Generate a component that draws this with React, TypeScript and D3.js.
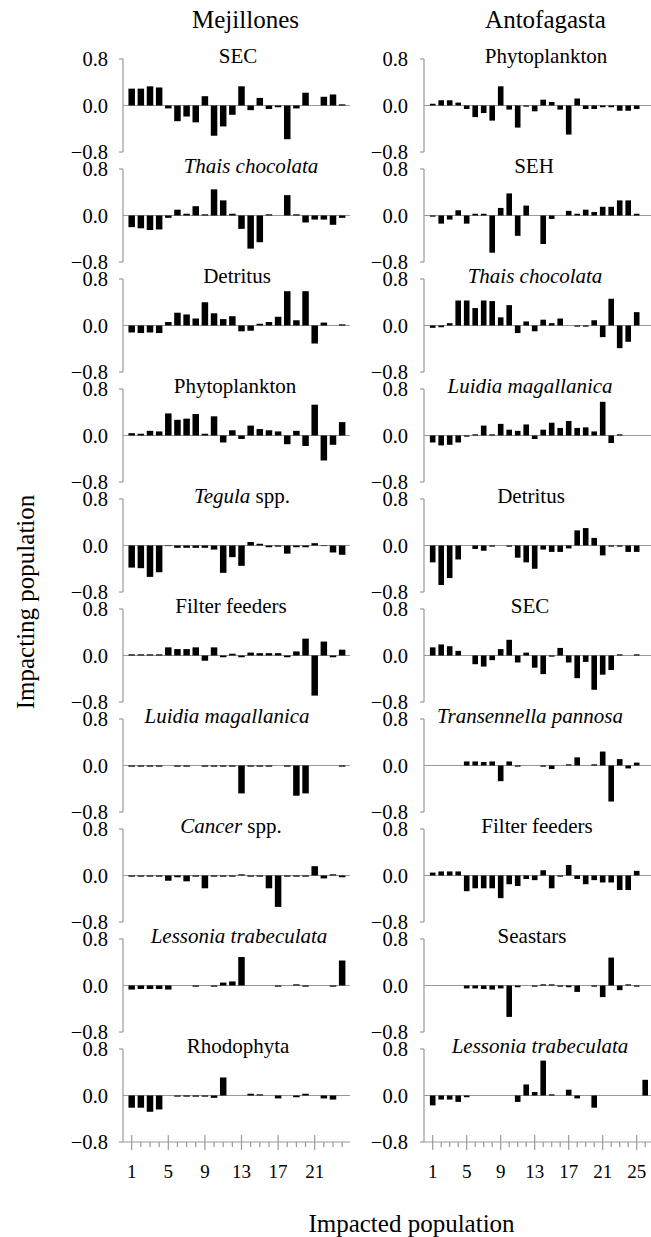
import React from "react";
import * as d3 from "d3";

// Mejillones: impacted populations 1-24, one array per impacting population
const mejSEC = [0.29, 0.29, 0.33, 0.31, -0.05, -0.27, -0.19, -0.29, 0.16, -0.52, -0.36, -0.16, 0.33, -0.08, 0.13, -0.06, -0.03, -0.58, -0.05, 0.22, 0, 0.15, 0.19, 0.02];
const mejThais = [-0.2, -0.22, -0.25, -0.24, -0.04, 0.1, 0.03, 0.16, 0.02, 0.45, 0.26, 0.03, -0.23, -0.57, -0.46, 0.02, 0, 0.35, 0.02, -0.12, -0.07, -0.07, -0.16, -0.04];
const mejDetritus = [-0.12, -0.13, -0.12, -0.13, 0.06, 0.22, 0.19, 0.12, 0.4, 0.21, 0.11, 0.16, -0.1, -0.09, 0.03, 0.06, 0.15, 0.59, 0.09, 0.59, -0.31, 0.05, 0, 0.02];
const mejPhyto = [0.04, 0.03, 0.08, 0.07, 0.38, 0.27, 0.29, 0.37, 0.03, 0.33, -0.12, 0.09, -0.06, 0.17, 0.11, 0.09, 0.07, -0.15, 0.08, -0.18, 0.53, -0.43, -0.16, 0.23];
const mejTegula = [-0.38, -0.39, -0.54, -0.46, -0.01, -0.04, -0.04, -0.04, -0.04, -0.07, -0.47, -0.2, -0.35, 0.06, 0.03, -0.03, -0.02, -0.14, -0.03, -0.03, 0.04, -0.01, -0.12, -0.16];
const mejFilter = [0.02, 0.02, 0.02, 0.02, 0.14, 0.11, 0.11, 0.14, -0.09, 0.14, -0.03, 0.03, -0.03, 0.05, 0.04, 0.04, 0.04, -0.03, 0.07, 0.29, -0.69, 0.24, -0.03, 0.1];
const mejLuidia = [-0.02, -0.02, -0.02, -0.02, 0, -0.02, -0.02, 0, -0.02, -0.02, -0.02, -0.02, -0.48, -0.02, -0.02, -0.02, 0, -0.02, -0.52, -0.48, 0, 0, 0, -0.02];
const mejCancer = [-0.02, -0.02, -0.02, -0.02, -0.09, -0.03, -0.1, -0.02, -0.22, -0.02, -0.02, -0.02, 0.02, -0.02, -0.02, -0.22, -0.54, -0.02, -0.02, -0.02, 0.16, -0.05, 0.02, -0.03];
const mejLessonia = [-0.07, -0.06, -0.06, -0.06, -0.07, 0, 0, -0.02, 0, -0.02, 0.05, 0.07, 0.49, 0, 0, 0, -0.02, 0, 0.02, -0.02, 0, 0, -0.02, 0.43];
const mejRhodo = [-0.21, -0.21, -0.28, -0.24, 0, -0.02, -0.02, -0.02, -0.02, -0.04, 0.31, 0, 0, 0.03, 0.02, 0, -0.05, 0, -0.03, 0.03, 0, -0.05, -0.07, 0];

// Antofagasta: impacted populations 1-26
const antPhyto = [0.03, 0.09, 0.09, 0.05, -0.06, -0.2, -0.13, -0.26, 0.33, -0.07, -0.38, -0.02, -0.1, 0.1, 0.06, -0.07, -0.5, 0.12, -0.06, -0.06, -0.03, -0.03, -0.09, -0.09, -0.06, 0];
const antSEH = [-0.02, -0.14, -0.07, 0.09, -0.14, 0.03, 0.03, -0.64, 0.13, 0.38, -0.35, 0.17, 0, -0.49, -0.06, 0, 0.08, 0.03, 0.1, 0.06, 0.15, 0.15, 0.26, 0.26, 0.03, 0];
const antThais = [-0.04, -0.03, 0.04, 0.43, 0.43, 0.3, 0.43, 0.42, 0.14, 0.35, -0.13, 0.07, -0.1, 0.1, 0.04, 0.12, 0, -0.02, -0.02, 0.09, -0.2, 0.46, -0.39, -0.28, 0.23, 0];
const antLuidia = [-0.12, -0.17, -0.16, -0.12, -0.02, 0.02, 0.17, 0.02, 0.2, 0.1, 0.08, 0.19, -0.06, 0.1, 0.22, 0.13, 0.25, 0.13, 0.14, 0.07, 0.58, -0.13, 0.02, 0, 0, 0];
const antDetritus = [-0.29, -0.68, -0.56, -0.24, 0, -0.06, -0.09, -0.02, 0, -0.02, -0.21, -0.29, -0.4, -0.07, -0.11, -0.11, -0.05, 0.26, 0.3, 0.13, -0.17, -0.02, -0.02, -0.11, -0.11, 0];
const antSEC = [0.14, 0.19, 0.16, 0.08, 0, -0.15, -0.19, -0.08, 0.11, 0.27, -0.12, 0.05, -0.21, -0.32, -0.02, 0.13, -0.12, -0.39, -0.11, -0.59, -0.33, -0.25, 0.02, 0, 0.02, 0];
const antTrans = [0, 0, 0, 0, 0.07, 0.07, 0.06, 0.07, -0.27, 0.07, -0.02, 0, 0, -0.02, -0.06, 0, 0.02, 0.14, 0, 0.02, 0.24, -0.62, 0.11, -0.05, 0.05, 0];
const antFilter = [0.05, 0.07, 0.07, 0.07, -0.27, -0.22, -0.22, -0.22, -0.39, -0.15, -0.18, -0.06, -0.08, 0.09, -0.22, -0.02, 0.18, -0.06, -0.15, -0.08, -0.12, -0.12, -0.25, -0.25, 0.08, 0];
const antSeastars = [0, 0, 0, 0, -0.05, -0.05, -0.06, -0.07, -0.05, -0.54, -0.03, 0, -0.02, 0.02, 0.02, -0.02, -0.03, -0.11, 0, -0.02, -0.2, 0.48, -0.08, 0.02, -0.02, 0];
const antLessonia = [-0.17, -0.07, -0.07, -0.11, -0.03, 0, 0, 0, 0, 0, -0.11, 0.19, 0.06, 0.6, 0.02, 0, 0.1, -0.05, 0, -0.21, 0, 0, 0, 0, 0, 0.27];

// panel titles, *...* marks italic
const mejTitles = ["SEC", "*Thais chocolata*", "Detritus", "Phytoplankton", "*Tegula* spp.", "Filter feeders", "*Luidia magallanica*", "*Cancer* spp.", "*Lessonia trabeculata*", "Rhodophyta"];
const antTitles = ["Phytoplankton", "SEH", "*Thais chocolata*", "*Luidia magallanica*", "Detritus", "SEC", "*Transennella pannosa*", "Filter feeders", "Seastars", "*Lessonia trabeculata*"];

const mejTickLabels = ["1", "5", "9", "13", "17", "21"];
const antTickLabels = ["1", "5", "9", "13", "17", "21", "25"];
const yTicks = [0.8, 0.0, -0.8];

const mejSeries = [mejSEC, mejThais, mejDetritus, mejPhyto, mejTegula, mejFilter, mejLuidia, mejCancer, mejLessonia, mejRhodo];
const antSeries = [antPhyto, antSEH, antThais, antLuidia, antDetritus, antSEC, antTrans, antFilter, antSeastars, antLessonia];

const FONT = "Liberation Serif";
const GRAY = "#999";
const W = 651;
const H = 1237;

const rowZero = (i: number) => 105.5 + 110 * i;
const HALF = 46.5;

const columns = [
  {
    name: "Mejillones", nameX: 245.5, series: mejSeries, titles: mejTitles,
    titleX: [238, 251, 237, 235, 242, 231, 227, 231, 239, 238],
    x0: 131.7, step: 9.15, axisLeft: 123, axisRight: 350, labelRight: 108,
    barW: 6.5, tickLabels: mejTickLabels,
  },
  {
    name: "Antofagasta", nameX: 545.5, series: antSeries, titles: antTitles,
    titleX: [546, 534, 535, 530, 531, 530, 530, 537, 532, 540],
    x0: 432.7, step: 8.5, axisLeft: 424, axisRight: 651, labelRight: 408,
    barW: 5.6, tickLabels: antTickLabels,
  },
];

function Panel({ col, row }: any) {
  const values: number[] = col.series[row];
  const n = values.length;
  const x = d3.scaleLinear().domain([1, n]).range([col.x0, col.x0 + (n - 1) * col.step]);
  const zero = rowZero(row);
  const y = d3.scaleLinear().domain([-0.8, 0.8]).range([zero + HALF, zero - HALF]);
  const last = row === col.series.length - 1;
  const base = y(-0.8);
  const parts = col.titles[row].split("*");

  return (
    <g>
      <line x1={col.axisLeft} x2={col.axisLeft} y1={y(0.8)} y2={y(-0.8)} stroke={GRAY} strokeWidth={1.2} />
      {[0.8, -0.8].map((d) => (
        <line key={d} x1={col.axisLeft - 4} x2={col.axisLeft} y1={y(d)} y2={y(d)} stroke={GRAY} strokeWidth={1.2} />
      ))}
      {yTicks.map((d) => (
        <text key={d} x={col.labelRight} y={y(d) + 7} textAnchor="end" fontFamily={FONT} fontSize={20.5}>
          {d3.format(".1f")(d)}
        </text>
      ))}
      <line x1={col.axisLeft} x2={col.axisRight} y1={y(0)} y2={y(0)} stroke={GRAY} strokeWidth={1.2} />
      {values.map((v, i) => (
        <rect
          key={i}
          x={x(i + 1) - col.barW / 2}
          y={Math.min(y(v), y(0))}
          width={col.barW}
          height={Math.abs(y(v) - y(0))}
          fill="#000"
        />
      ))}
      <text x={col.titleX[row]} y={y(0.8) + 4} textAnchor="middle" fontFamily={FONT} fontSize={21} style={{ whiteSpace: "pre" }}>
        {parts.map((p: string, k: number) =>
          p ? (
            <tspan key={k} fontStyle={k % 2 ? "italic" : "normal"}>
              {p}
            </tspan>
          ) : null
        )}
      </text>
      {last && (
        <g>
          <line x1={col.axisLeft} x2={col.axisRight} y1={base} y2={base} stroke={GRAY} strokeWidth={1.2} />
          {d3.range(1, n + 1).map((d) => {
            const major = (d - 1) % 4 === 0;
            return (
              <line
                key={d}
                x1={x(d)}
                x2={x(d)}
                y1={major ? base - 7 : base}
                y2={major ? base + 8 : base + 5}
                stroke={GRAY}
                strokeWidth={1.2}
              />
            );
          })}
          {col.tickLabels.map((d: string) => (
            <text key={d} x={x(+d)} y={base + 36} textAnchor="middle" fontFamily={FONT} fontSize={19}>
              {d}
            </text>
          ))}
        </g>
      )}
    </g>
  );
}

export default function App() {
  return (
    <svg width={W} height={H} style={{ position: "absolute", left: 0, top: 0, background: "#fff" }}>
      {columns.map((col) => (
        <g key={col.name}>
          <text x={col.nameX} y={28} textAnchor="middle" fontFamily={FONT} fontSize={25}>
            {col.name}
          </text>
          {col.series.map((_, row) => (
            <Panel key={row} col={col} row={row} />
          ))}
        </g>
      ))}
      <text transform="translate(34,602) rotate(-90)" textAnchor="middle" fontFamily={FONT} fontSize={25}>
        Impacting population
      </text>
      <text x={411.5} y={1232} textAnchor="middle" fontFamily={FONT} fontSize={25}>
        Impacted population
      </text>
    </svg>
  );
}
